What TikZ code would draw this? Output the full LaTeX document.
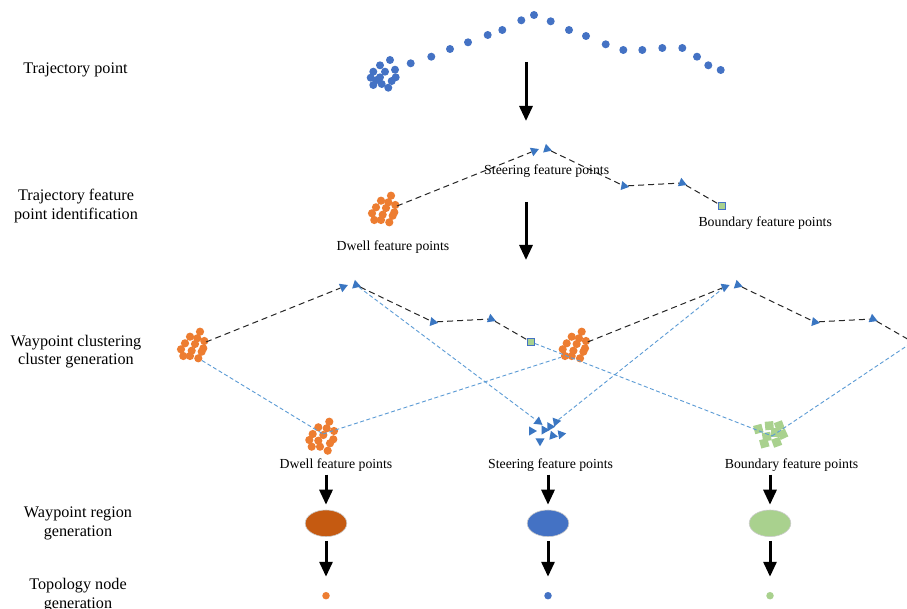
\documentclass[tikz,border=0pt]{standalone}
\usepackage{fontspec}
\setmainfont{Liberation Serif}
\usetikzlibrary{arrows.meta,shapes.geometric}
\definecolor{trajblue}{HTML}{4472C4}
\definecolor{dwellorange}{HTML}{ED7D31}
\definecolor{steerblue}{HTML}{3A76C2}
\definecolor{linkblue}{HTML}{5B9BD5}
\definecolor{bndgreen}{HTML}{A9D18E}
\definecolor{regionorange}{HTML}{C55A11}
\tikzset{
  dotb/.style={circle, fill=trajblue, inner sep=0, minimum size=8},
  doto/.style={circle, fill=dwellorange, inner sep=0, minimum size=8.2},
  tri/.style={regular polygon, regular polygon sides=3, fill=steerblue, inner sep=0, minimum size=10.5},
  sqmark/.style={rectangle, fill=bndgreen, draw=trajblue, line width=0.8, inner sep=0, minimum size=7},
  gsq/.style={rectangle, fill=bndgreen, inner sep=0, minimum size=8.5},
  bdash/.style={black!85, dash pattern=on 6 off 4, line width=1},
  ldash/.style={linkblue, dash pattern=on 4 off 2.5, line width=0.9},
  bigarrow/.style={-{Triangle[width=13,length=15]}, line width=3},
  lbl/.style={font=\fontsize{13.8}{19}\selectfont, inner sep=0, align=center},
  sidelbl/.style={font=\fontsize{16.2}{18.6}\selectfont, inner sep=0, align=center},
  region/.style={ellipse, draw=white!80!black, line width=0.6, minimum width=41.6, minimum height=26.6, inner sep=0},
  tnode/.style={circle, inner sep=0, minimum size=7.5}
}
\newcommand\featpattern[3]{%
\begin{scope}[shift={(#2,#3)}]
  \foreach \px/\py [count=\i] in {8/-14.3, -2/-9.3, 5.3/-7.7, 12.3/-5, -7/-2.7, 3/-2, 11.3/2.3, -11/3.3, -0.3/4.7, 9.7/5.7, -8.7/10, -2/10, 6.3/12.3}
    \node[doto] (#1d\i) at (\px,\py) {};
  \coordinate (#1out) at (14,-4);
  \node[tri, rotate=-68] (#1tr) at (151,-59) {};
  \node[tri, rotate=12] (#1tu) at (164,-61) {};
  \node[tri, rotate=-100] (#1trb) at (241,-24) {};
  \node[tri, rotate=8] (#1tub) at (299,-27) {};
  \node[sqmark] (#1sq) at (339,-4) {};
  \draw[bdash] (#1out) -- (#1tr);
  \draw[bdash] (#1tu) -- (#1trb) -- (#1tub) -- (#1sq);
\end{scope}}
\begin{document}
\begin{tikzpicture}[x=1pt,y=-1pt]
\useasboundingbox (0,0) rectangle (907,609);
\fill[white] (0,0) rectangle (907,609);
\clip (0,0) rectangle (907,609);

% left labels
\node[sidelbl] (L1) at (75.5,70) {Trajectory point};
\node[sidelbl] (L2) at (76,206) {Trajectory feature\\point identification};
\node[sidelbl] (L3) at (76,351.5) {Waypoint clustering\\cluster generation};
\node[sidelbl] (L4) at (78,523.5) {Waypoint region\\generation};
\node[sidelbl] (L5) at (78,595) {Topology node\\generation};

% row 1: trajectory points
\foreach \px/\py [count=\i] in {390/60, 380/65.3, 395/69.7, 373.3/71.7, 385/71.7, 370.7/77.7, 395.7/77.3, 380/77.3, 391.7/81, 373.3/85, 381.7/84, 388.3/87.7, 376.7/80,
  410.7/63.3, 431.3/56.7, 450/49, 468/42.3, 487.7/35, 502.3/30, 521.3/20.3, 534/15, 550.7/21.3, 569/30, 586/36, 605.7/44.3, 623.3/50, 642.3/50, 662.3/48, 682.3/48, 697/56.7, 708.3/65.3, 720.7/70}
  \node[dotb] (tp\i) at (\px,\py) {};

\coordinate (A1s) at (526,62);
\coordinate (A1e) at (526,121);
\draw[bigarrow] (A1s) -- (A1e);

% row 2
\featpattern{a}{383}{210}
\node[lbl] (aSl) at (546.7,171) {Steering feature points};
\node[lbl] (aBl) at (765.2,222.7) {Boundary feature points};
\node[lbl] (aDl) at (393,246.7) {Dwell feature points};

\coordinate (A2s) at (526,202);
\coordinate (A2e) at (526,260);
\draw[bigarrow] (A2s) -- (A2e);

% row 3
\featpattern{b}{192}{346}
\featpattern{c}{573.7}{346}

% lower dwell cluster
\foreach \px/\py [count=\i] in {6.3/-13.3, -4.7/-7.7, 3.7/-6.7, 11/-4, -10.3/-1, 0.3/0, 10.3/4.3, -13.7/5, -4.7/5.7, 7/8.3, -11.3/11.7, -3/11.7, 4.7/15.7}
  \node[doto] (e\i) at ([shift={(\px,\py)}]323,435) {};
\coordinate (eC) at (323,434);

% steering cluster
\node[tri, rotate=-127] (s1) at (538.3,421.7) {};
\node[tri, rotate=40] (s2) at (556,421.7) {};
\node[tri, rotate=-90] (s3) at (531.7,431) {};
\node[tri, rotate=30] (s4) at (544.3,430) {};
\node[tri, rotate=150] (s5) at (550,426.7) {};
\node[tri, rotate=20] (s6) at (552.7,435.7) {};
\node[tri, rotate=-80] (s7) at (561,434.3) {};
\node[tri, rotate=180] (s8) at (540,441) {};

% boundary cluster
\node[gsq, rotate=15] (g1) at (758.3,429) {};
\node[gsq, rotate=5] (g2) at (769.3,425.7) {};
\node[gsq, rotate=20] (g3) at (779.3,425.7) {};
\node[gsq, rotate=10] (g4) at (766.7,436.7) {};
\node[gsq, rotate=0] (g5) at (775,432.3) {};
\node[gsq, rotate=25] (g6) at (782.7,434.3) {};
\node[gsq, rotate=15] (g7) at (764.3,443.3) {};
\node[gsq, rotate=20] (g8) at (776.7,442.3) {};
\coordinate (gC) at (772,436);

% blue links
\draw[ldash] (bd13) -- (eC);
\draw[ldash] (eC) -- (cd11);
\draw[ldash] (btu) -- (s1);
\draw[ldash] (s2) -- (ctr);
\draw[ldash] (bsq) -- (gC);
\draw[ldash] (gC) -- (csq);

% row 3 labels
\node[lbl] (dl) at (336,465) {Dwell feature points};
\node[lbl] (sl) at (550.6,465) {Steering feature points};
\node[lbl] (bl) at (791.5,465) {Boundary feature points};

% regions
\node[region, fill=regionorange] (r1) at (326,523.3) {};
\node[region, fill=trajblue] (r2) at (548,523.3) {};
\node[region, fill=bndgreen] (r3) at (770,523.3) {};

% topology nodes
\node[tnode, fill=dwellorange] (n1) at (326,595.7) {};
\node[tnode, fill=trajblue] (n2) at (548,595.7) {};
\node[tnode, fill=bndgreen] (n3) at (770,595.7) {};

\foreach \k in {1,2,3}{
  \draw[bigarrow] ([yshift=-3pt]r\k.north |- dl.south) -- ([yshift=5pt]r\k.north);
  \draw[bigarrow] ([yshift=-4pt]r\k.south) -- ([yshift=15pt]n\k.north);
}
\end{tikzpicture}
\end{document}
